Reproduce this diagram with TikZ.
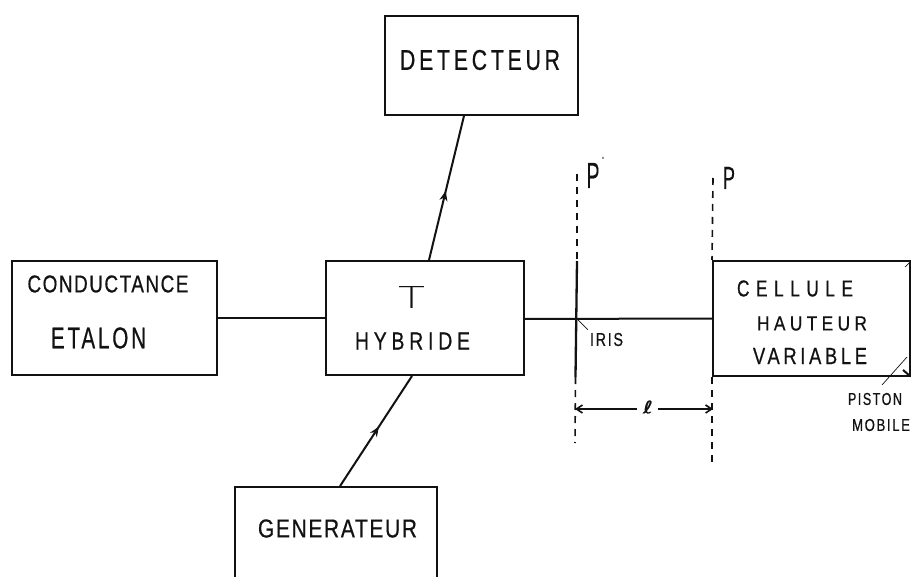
\documentclass[tikz,border=0pt]{standalone}
\usepackage{graphicx}
\usepackage{fontspec}
\setmainfont{Liberation Sans}
\newfontfamily\ellfont[FakeBold=0.5]{DejaVu Sans}
\newfontfamily\lightfont{DejaVu Sans ExtraLight}
\usetikzlibrary{calc,decorations.markings,arrows.meta}
\newcommand{\hw}[4]{\resizebox{#1pt}{#2pt}{\fontsize{20}{20}\selectfont\addfontfeature{LetterSpace=#3,FakeBold=0.7}#4}}
\newcommand{\hn}[3]{\resizebox{#1pt}{#2pt}{\fontsize{20}{20}\selectfont\addfontfeature{FakeBold=0.1}#3}}
\definecolor{inkc}{gray}{0.07}
\tikzset{
  block/.style={draw=inkc,line width=2pt,rectangle,minimum width=#1,inner sep=0pt},
  line/.style={draw=inkc,line width=2pt},
  thinline/.style={draw=inkc,line width=0.7pt},
  planeline/.style={draw=inkc,line width=1.6pt,dash pattern=on 7pt off 6pt},
  txt/.style={text=inkc,inner sep=0pt,anchor=center},
  midarrow/.style={postaction={decorate},decoration={markings,mark=at position #1 with {\arrow{Stealth[length=10pt,width=8pt]}}}},
  dimline/.style={draw=inkc,line width=1.6pt,-{Straight Barb[length=6pt,width=8pt]}}
}
\begin{document}
\begin{tikzpicture}[x=1pt,y=-1pt]
\useasboundingbox (0,0) rectangle (912,577);
\clip (0,0) rectangle (912,577);
% blocks
\node[block=193pt,minimum height=99pt] (det) at (481.5,65.5) {};
\node[block=205pt,minimum height=114pt] (con) at (114.5,318) {};
\node[block=198pt,minimum height=114pt] (hyb) at (425,318) {};
\node[block=197pt,minimum height=115pt] (cel) at (811.5,318.5) {};
\node[block=202pt,minimum height=130pt] (gen) at (336,552) {};
% text
\node[txt] (tdet) at (480,60) {\hw{160}{20}{18}{DETECTEUR}};
\node[txt] (tcon) at (108,284) {\hw{161}{17}{8}{CONDUCTANCE}};
\node[txt] (teta) at (98.5,338) {\hw{95}{21}{14}{ETALON}};
\node[txt] (tt) at (411.5,297) {\resizebox{27pt}{22pt}{\fontsize{30}{30}\lightfont T}};
\node[txt] (thyb) at (412.5,341) {\hw{115}{17}{25}{HYBRIDE}};
\node[txt] (tce) at (795,288.5) {\hw{116}{16}{38}{CELLULE}};
\node[txt] (tha) at (812,323.5) {\hw{110}{14}{25}{HAUTEUR}};
\node[txt] (tva) at (810,356) {\hw{114}{16}{20}{VARIABLE}};
\node[txt] (tgen) at (337.5,528.5) {\hw{159}{18}{8}{GENERATEUR}};
\node[txt] (tiris) at (606.5,339.5) {\hw{33}{13}{12}{IRIS}};
\node[txt] (tpis) at (875,399) {\hw{54}{12}{12}{PISTON}};
\node[txt] (tmob) at (881,425) {\hw{58}{12}{12}{MOBILE}};
\node[txt] (tpp) at (593,175.5) {\hn{13}{25}{P}};
\node[txt] (tprime) at (603,160) {\hn{2}{6}{'}};
\node[txt] (tp) at (729,178) {\hn{12}{22}{P}};
\node[txt] (tl) at (648,407) {\resizebox{10pt}{13pt}{\ellfont ℓ}};
% planes
\coordinate (ptop) at (577,174);
\coordinate (irt) at (577,261);
\coordinate (irb) at (575.5,377);
\coordinate (pbot) at (575,443);
\coordinate (qtop) at (713,178);
\coordinate (qbot) at (712,464);
\coordinate (irc) at (577,319);
\coordinate (lleft) at (575,409);
\coordinate (lright) at (713,409);
\draw[planeline] (ptop) -- (irt);
\draw[line,line width=2.3pt] (irt) -- (irb);
\draw[planeline] (irb) -- (pbot);
\draw[planeline] (qtop) -- (cel.north west);
\draw[planeline] (cel.south west) -- (qbot);
% connectors
\draw[line] (con.east) -- (hyb.west);
\draw[line] ($(hyb.east)+(0,1)$) -- (cel.west);
\coordinate (dtop) at ($(det.south west)!0.41!(det.south east)$);
\coordinate (dbot) at ($(hyb.north west)!0.52!(hyb.north east)$);
\draw[line,midarrow=0.48] (dbot) -- (dtop);
\coordinate (gtop) at ($(gen.north west)!0.52!(gen.north east)$);
\coordinate (gbot) at ($(hyb.south west)!0.435!(hyb.south east)$);
\draw[line,midarrow=0.54] (gtop) -- (gbot);
% dimension
\draw[dimline] (tl.west) ++(-6,2) -- (lleft);
\draw[dimline] (tl.east) ++(5,2) -- (lright);
% leaders
\draw[thinline] (irc) -- ($(tiris.north west)+(-2,-3)$);
\coordinate (pa) at (907,357);
\coordinate (pb) at (882,385);
\draw[thinline] (pb) -- (pa);
\coordinate (c1) at (905,267);
\coordinate (c1e) at (910,262);
\coordinate (c2) at (903,370);
\coordinate (c2e) at (910,376);
\draw[thinline] (c1) -- (c1e);
\draw[line] (c2) -- (c2e);
\end{tikzpicture}
\end{document}
